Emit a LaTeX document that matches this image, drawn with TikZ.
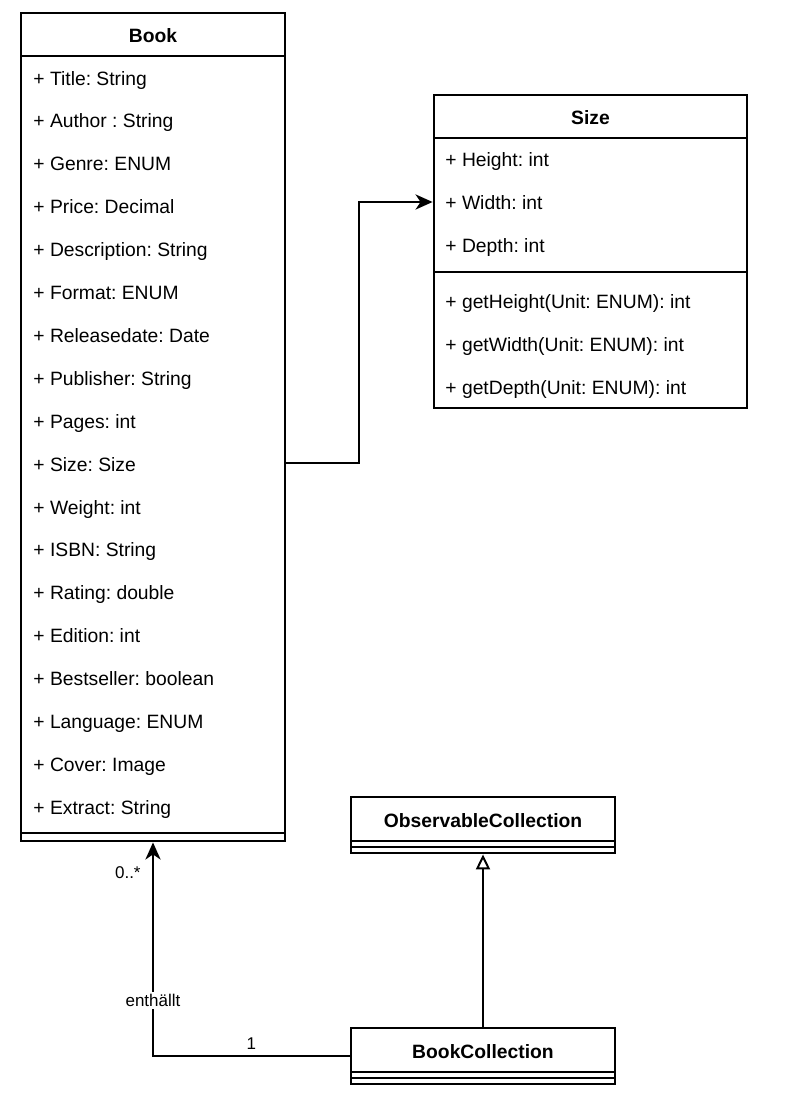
\documentclass[tikz,border=0pt]{standalone}
\usepackage{fontspec}
\setmainfont{Liberation Sans}
\usetikzlibrary{arrows.meta}
\frenchspacing

\begin{document}
\begin{tikzpicture}[x=1pt,y=-1pt,line width=2.8pt]
\tikzstyle{every node}=[inner sep=0pt,font=\fontsize{19.3}{23}\selectfont]
\tikzstyle{cls}=[draw,rectangle,minimum width=264pt]
\tikzstyle{head}=[font=\fontsize{19.3}{23}\selectfont\bfseries,anchor=base]
\tikzstyle{attr}=[anchor=base west]
\tikzstyle{lbl}=[font=\fontsize{17}{20}\selectfont]
\tikzstyle{link}=[-{Stealth[length=17pt,width=15pt,inset=5pt]}]
\tikzstyle{inherit}=[-{Triangle[open,length=15pt,width=14pt,line width=2pt]}]
\useasboundingbox (0,0) rectangle (793,1100);

% Book
\node[cls,minimum height=828pt] (book) at (153,427) {};
\node[head] (bookh) at (153,42) {Book};
\draw (21,56) -- (285,56);
\draw (21,833) -- (285,833);
\foreach \t [count=\i from 0] in {Title: String,Author : String,Genre: ENUM,
  Price: Decimal,Description: String,Format: ENUM,Releasedate: Date,
  Publisher: String,Pages: int,Size: Size,Weight: int,ISBN: String,
  Rating: double,Edition: int,Bestseller: boolean,Language: ENUM,
  Cover: Image,Extract: String}
  \node[attr] (ba\i) at (32,{85+42.9*\i}) {+ \t};

% Size
\node[cls,minimum width=313pt,minimum height=313pt] (size) at (590.5,251.5) {};
\node[head] (sizeh) at (590.5,124) {Size};
\draw (434,138) -- (747,138);
\draw (434,272) -- (747,272);
\foreach \t [count=\i from 0] in {Height: int,Width: int,Depth: int}
  \node[attr] (sa\i) at (444,{166+43*\i}) {+ \t};
\foreach \t [count=\i from 0] in {getHeight(Unit: ENUM): int,
  getWidth(Unit: ENUM): int,getDepth(Unit: ENUM): int}
  \node[attr] (sm\i) at (444,{308+43*\i}) {+ \t};

% ObservableCollection
\node[cls,minimum height=56pt] (obs) at (483,825) {};
\node[head] (obsh) at (483,827) {ObservableCollection};
\draw (351,841) -- (615,841);
\draw (351,847) -- (615,847);

% BookCollection
\node[cls,minimum height=56pt] (coll) at (483,1056) {};
\node[head] (collh) at (483,1058) {BookCollection};
\draw (351,1072) -- (615,1072);
\draw (351,1078) -- (615,1078);

% connectors
\coordinate (bend) at (359,463);
\coordinate (wrow) at (0,202);
\draw[link] (book.east |- bend) -- (bend) |- (size.west |- wrow);
\draw[inherit] (coll.north) -- (obs.south);
\draw[link] (coll.west) -| node[lbl,above=5pt,pos=0.25] (one) {1}
  node[lbl,fill=white,inner sep=2pt,pos=0.63] (rel) {enthällt}
  node[lbl,left=11pt,pos=0.93] (mult) {0..*} (book.south);
\end{tikzpicture}
\end{document}
